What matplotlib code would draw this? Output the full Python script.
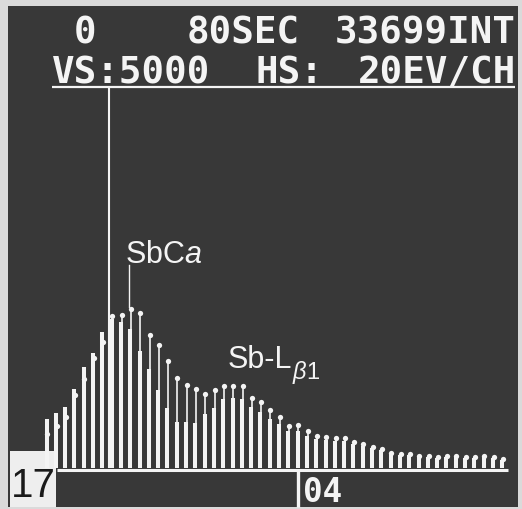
import matplotlib
matplotlib.use('Agg')
import matplotlib.pyplot as plt
from matplotlib.patches import Rectangle

# ---- data ----
channels = list(range(50))
dot_counts = [450, 550, 670, 960, 1170, 1450, 1660, 1990, 2010, 2090,
              2030, 1740, 1610, 1410, 1180, 1090, 1040, 970, 1030, 1070,
              1080, 1070, 920, 870, 760, 670, 550, 570, 490, 420,
              410, 390, 390, 340, 320, 280, 250, 200, 180, 180,
              160, 160, 140, 160, 160, 140, 140, 160, 140, 120]
bar_counts = [640, 720, 800, 1040, 1320, 1510, 1790, 1960, 1920, 1830,
              1530, 1300, 1030, 790, 610, 610, 590, 710, 790, 910,
              920, 910, 800, 740, 640, 580, 490, 490, 420, 380,
              370, 360, 360, 320, 290, 260, 240, 180, 170, 170,
              140, 140, 130, 140, 140, 130, 130, 140, 130, 110]
cursor_channel = 6.67
full_scale = 5000
header_line1 = ["0", "80SEC", "33699INT"]
header_line2 = ["VS:5000", "HS:", "20EV/CH"]
peak_labels = [r"SbC$\mathit{a}$", "Sb-L", r"$\mathit{\beta}$1"]
frame_number = "17"
channel_readout = "04"

plt.rcParams['mathtext.fontset'] = 'custom'
plt.rcParams['mathtext.rm'] = 'Liberation Sans'
plt.rcParams['mathtext.it'] = 'Liberation Sans:italic'
plt.rcParams['mathtext.bf'] = 'Liberation Sans:bold'

W, H = 522, 510
fig = plt.figure(figsize=(W / 100, H / 100), dpi=100)
fig.patch.set_facecolor('#dadada')

SCREEN = '#383838'
WHITE = '#f4f4f4'

# decoration axes in pixel coordinates
deco = fig.add_axes([0, 0, 1, 1])
deco.set_xlim(0, W)
deco.set_ylim(H, 0)
deco.axis('off')
deco.add_patch(Rectangle((8, 7), 510, 501, facecolor=SCREEN, edgecolor='none'))

mono = dict(family='DejaVu Sans Mono', fontweight='bold', color=WHITE, fontsize=27)
deco.text(74, 43, header_line1[0], ha='left', va='baseline', **mono)
deco.text(243, 43, header_line1[1], ha='center', va='baseline', **mono)
deco.text(516, 43, header_line1[2], ha='right', va='baseline', **mono)
deco.text(52, 83, header_line2[0], ha='left', va='baseline', **mono)
deco.text(256, 83, header_line2[1], ha='left', va='baseline', **mono)
deco.text(516, 83, header_line2[2], ha='right', va='baseline', **mono)
deco.plot([52, 515], [88, 88], color=WHITE, lw=1.6, solid_capstyle='butt')

# baseline and lower readout area
deco.plot([57, 508], [470.5, 470.5], color=WHITE, lw=2.2, solid_capstyle='butt')
deco.plot([298, 298], [470, 508], color=WHITE, lw=2.4, solid_capstyle='butt')
deco.add_patch(Rectangle((10, 452), 46, 56, facecolor='#eeeeee', edgecolor='none'))
deco.text(33, 497, frame_number, ha='center', va='baseline', color='#1a1a1a',
          fontsize=29, family=['Liberation Sans Narrow', 'Liberation Sans'])
deco.text(303, 502, channel_readout, ha='left', va='baseline',
          family='DejaVu Sans Mono', fontweight='bold', color=WHITE, fontsize=23.5)

# data axes: channel k at pixel 46.5 + 9.3 k, counts 0..5000 from y=469 up to y=88
x0, pitch = 46.5, 9.3
left_px, right_px = x0 - pitch, x0 + pitch * 50.2
ax = fig.add_axes([left_px / W, (H - 469) / H, (right_px - left_px) / W, 381 / H])
ax.set_xlim(-1, 50.2)
ax.set_ylim(0, full_scale)
ax.axis('off')
ax.patch.set_alpha(0)

ax.vlines(channels, 0, bar_counts, color=WHITE, lw=2.9)
ax.vlines([c + 0.08 for c in channels], 0, dot_counts, color=WHITE, lw=1.2)
ax.plot([c + 0.08 for c in channels], dot_counts, 'o', color=WHITE,
        markersize=3.8, markeredgewidth=0)
ax.vlines(cursor_channel, 0, full_scale, color=WHITE, lw=1.5)

lab = dict(family='Liberation Sans', color=WHITE, fontsize=22)
ax.text(8.44, 2700, peak_labels[0], ha='left', va='baseline', **lab)
ax.plot([8.87, 8.87], [2110, 2670], color=WHITE, lw=1.0)
ax.text(19.5, 1325, peak_labels[1], ha='left', va='baseline', **lab)
ax.text(26.4, 1180, peak_labels[2], ha='left', va='baseline',
        family='Liberation Sans', color=WHITE, fontsize=17)

fig.savefig('out.png', dpi=100)
